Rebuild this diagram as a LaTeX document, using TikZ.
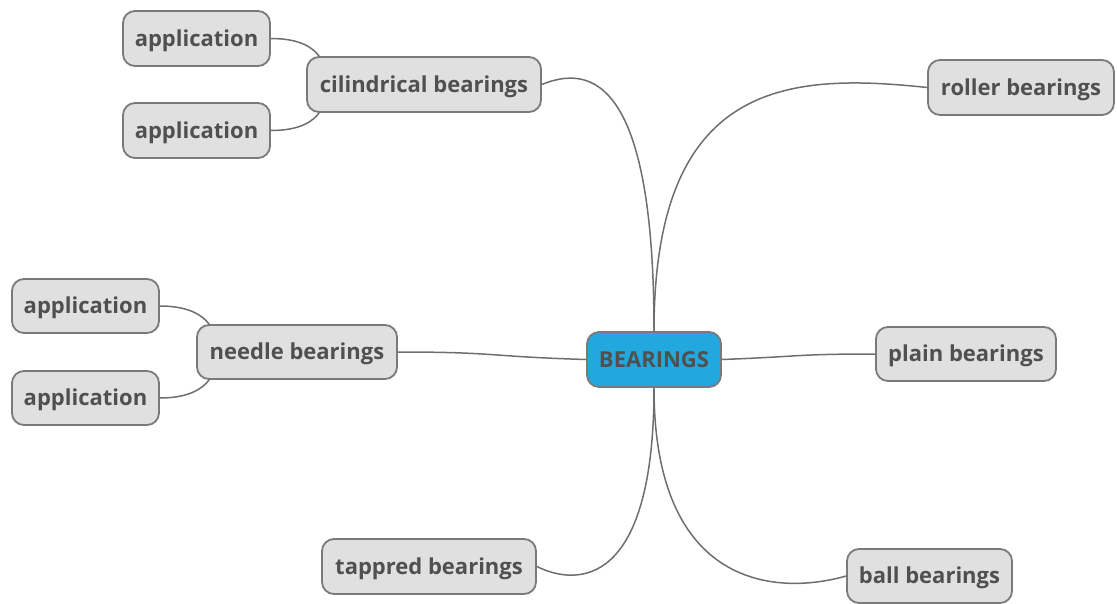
\documentclass[tikz,border=0pt]{standalone}
\usepackage{fontspec}
\setmainfont{Open Sans}
\definecolor{boxfill}{HTML}{E0E0E0}
\definecolor{boxline}{HTML}{7A7A7A}
\definecolor{txt}{HTML}{505050}
\definecolor{rootfill}{HTML}{22A8DF}
\definecolor{link}{HTML}{6E6E6E}
\begin{document}
\begin{tikzpicture}[x=1pt,y=-1pt,
  topic/.style={draw=boxline, line width=1.8pt, fill=boxfill, rounded corners=12pt,
    text=txt, font=\fontsize{22}{26}\selectfont\bfseries, inner sep=0pt, anchor=center,
    text height=17pt, text depth=1.5pt},
  root/.style={topic, fill=rootfill},
  conn/.style={draw=link, line width=1.5pt}]
\useasboundingbox (0,0) rectangle (1117,603);
\node[root, minimum width=134pt, minimum height=55pt] (root) at (654,359.5) {BEARINGS};
\node[topic, minimum width=234pt, minimum height=55pt] (cil) at (424,84.5) {cilindrical bearings};
\node[topic, minimum width=147pt, minimum height=55pt] (a1) at (196.5,38.5) {application};
\node[topic, minimum width=147pt, minimum height=55pt] (a2) at (196.5,130.5) {application};
\node[topic, minimum width=186pt, minimum height=55pt] (rol) at (1021,87.5) {roller bearings};
\node[topic, minimum width=200pt, minimum height=54pt] (nee) at (297,352) {needle bearings};
\node[topic, minimum width=147pt, minimum height=54pt] (a3) at (85.5,306) {application};
\node[topic, minimum width=147pt, minimum height=54pt] (a4) at (85.5,398) {application};
\node[topic, minimum width=180pt, minimum height=54pt] (pla) at (966,354) {plain bearings};
\node[topic, minimum width=214pt, minimum height=55pt] (tap) at (429,566.5) {tappred bearings};
\node[topic, minimum width=165pt, minimum height=54pt] (bal) at (929.5,576) {ball bearings};
% connectors
\draw[conn] (root.north) .. controls +(0,-230) and +(60,-25) .. (cil.east);
\draw[conn] (root.north) .. controls +(0,-250) and +(-140,-15) .. (rol.west);
\draw[conn] (root.west) .. controls +(-100,-3) and +(100,0) .. (nee.east);
\draw[conn] (root.east) .. controls +(80,-3) and +(-80,0) .. (pla.west);
\draw[conn] (root.south) .. controls +(0,200) and +(40,20) .. (tap.east);
\draw[conn] (root.south) .. controls +(0,200) and +(-70,20) .. (bal.west);
\draw[conn] (a1.east) .. controls +(30,0) and +(-6,-8) .. ([xshift=13pt]cil.north west);
\draw[conn] (a2.east) .. controls +(30,0) and +(-6,8) .. ([xshift=13pt]cil.south west);
\draw[conn] (a3.east) .. controls +(30,0) and +(-6,-8) .. ([xshift=13pt]nee.north west);
\draw[conn] (a4.east) .. controls +(30,0) and +(-6,8) .. ([xshift=13pt]nee.south west);
\end{tikzpicture}
\end{document}
